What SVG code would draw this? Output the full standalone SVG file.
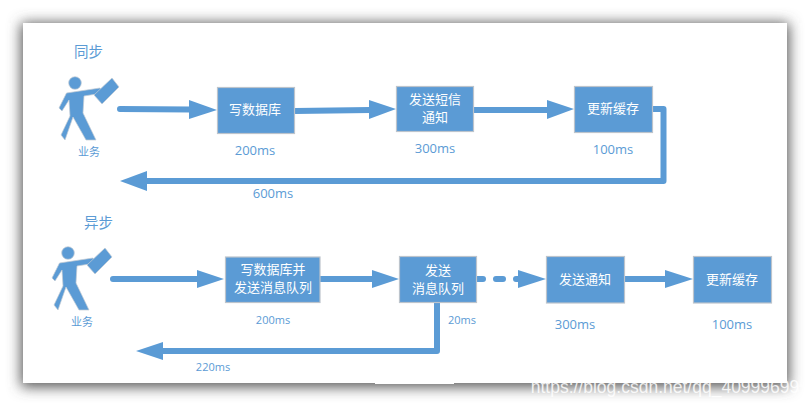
<svg xmlns="http://www.w3.org/2000/svg" xmlns:xlink="http://www.w3.org/1999/xlink" width="811" height="407" viewBox="0 0 811 407">
<style>
text{font-family:"Open Sans","Noto Sans CJK SC",sans-serif;text-anchor:middle}
.box{fill:#5b9bd5;stroke:#bcc4cc;stroke-width:1.2}
.boxt{fill:#fff;font-size:13px;font-family:"Noto Sans CJK SC",sans-serif}
.lbl{fill:#5b9bd5}
.l13{font-size:13px}.l11{font-size:11px}
.head{font-size:14.5px;font-family:"Noto Sans CJK SC",sans-serif}
.line{fill:none;stroke:#5b9bd5;stroke-width:6;stroke-linejoin:round}
.tip{fill:#5b9bd5}
.fig{fill:#5b9bd5;stroke:#c3ccd4;stroke-width:.7}
</style>
<defs>
<filter id="sh" x="-8%" y="-15%" width="116%" height="130%"><feGaussianBlur stdDeviation="7"/></filter>
<g id="person">
<circle cx="75" cy="83" r="6.3" class="fig"/>
<path class="fig" d="M66.500 93L100 88L103 93L84 96L83 113L96 140L86 140L73 117L65 140L61 135L70 116L69 100L62 111L59 108Z"/>
<path class="fig" d="M94 95L112 78L119 87L102 104Z"/>
</g>
</defs>
<rect width="811" height="407" fill="#fff"/>
<rect x="21" y="23" width="768" height="364" fill="#555" filter="url(#sh)"/>
<rect x="23" y="23" width="764" height="360" fill="#fff"/>
<rect x="375" y="381" width="79" height="3" fill="#fff"/>

<g id="connectors">
<path class="line" d="M120 109L190 109.500" stroke-linecap="round"/><path class="tip" d="M189 100L217 110L189 119Z"/>
<path class="line" d="M295 111L370 110"/><path class="tip" d="M369 100L396 109L369 119Z"/>
<path class="line" d="M474 110L548 110"/><path class="tip" d="M547 100L574 109L547 119Z"/>
<path class="line" d="M653 109H663.500V181H146"/><path class="tip" d="M147 171L120 181L147 191Z"/>
<path class="line" d="M113 279H198" stroke-linecap="round"/><path class="tip" d="M197 270L224 279L197 288Z"/>
<path class="line" d="M320 279H373"/><path class="tip" d="M372 270L399 279L372 288Z"/>
<path class="line" d="M477 279H483M496 279H503M516 279H519" stroke-linecap="round"/><path class="tip" d="M518 270L546 279L518 288Z"/>
<path class="line" d="M625 279H666"/><path class="tip" d="M665 270L693 279L665 288Z"/>
<path class="line" d="M437 303V351H162"/><path class="tip" d="M163 342L136 351L163 360Z"/>
</g>

<g id="title-sync"><text class="lbl head" x="88.500" y="57">同步</text></g>
<g id="actor-sync"><use xlink:href="#person" href="#person"/><text class="lbl l11" x="89" y="156" style="font-family:'Noto Sans CJK SC',sans-serif">业务</text></g>
<g id="n1"><rect class="box" x="217.500" y="87.500" width="77" height="46"/><text class="boxt" x="255" y="114">写数据库</text></g>
<g id="n2"><rect class="box" x="396.500" y="86.500" width="77" height="45"/><text class="boxt" x="435" y="104">发送短信</text><text class="boxt" x="435" y="122">通知</text></g>
<g id="n3"><rect class="box" x="574.500" y="86.500" width="78" height="46"/><text class="boxt" x="613" y="113">更新缓存</text></g>
<g id="t1"><text class="lbl l13" x="255" y="155">200ms</text></g>
<g id="t2"><text class="lbl l13" x="435" y="153">300ms</text></g>
<g id="t3"><text class="lbl l13" x="613" y="154">100ms</text></g>
<g id="t4"><text class="lbl l13" x="273" y="198">600ms</text></g>

<g id="title-async"><text class="lbl head" x="98.500" y="228">异步</text></g>
<g id="actor-async"><use xlink:href="#person" href="#person" x="-7" y="170"/><text class="lbl l11" x="82" y="326" style="font-family:'Noto Sans CJK SC',sans-serif">业务</text></g>
<g id="m1"><rect class="box" x="225.500" y="257" width="94.500" height="45.500"/><text class="boxt" x="273" y="274">写数据库并</text><text class="boxt" x="273" y="292">发送消息队列</text></g>
<g id="m2"><rect class="box" x="399.500" y="256.500" width="77" height="46"/><text class="boxt" x="438" y="275">发送</text><text class="boxt" x="438" y="293">消息队列</text></g>
<g id="m3"><rect class="box" x="546.500" y="256.500" width="78" height="46.500"/><text class="boxt" x="585" y="284">发送通知</text></g>
<g id="m4"><rect class="box" x="693.500" y="256.500" width="78" height="46.500"/><text class="boxt" x="732" y="284">更新缓存</text></g>
<g id="u1"><text class="lbl l11" x="273" y="324">200ms</text></g>
<g id="u2"><text class="lbl l11" x="462" y="324">20ms</text></g>
<g id="u3"><text class="lbl l13" x="575" y="329">300ms</text></g>
<g id="u4"><text class="lbl l13" x="732" y="329">100ms</text></g>
<g id="u5"><text class="lbl l11" x="213" y="371">220ms</text></g>
<text x="665" y="393" style="font-family:'Liberation Sans',sans-serif;font-size:17.500px;fill:#fff;fill-opacity:.85">https://blog.csdn.net/qq_40999699</text>
</svg>
